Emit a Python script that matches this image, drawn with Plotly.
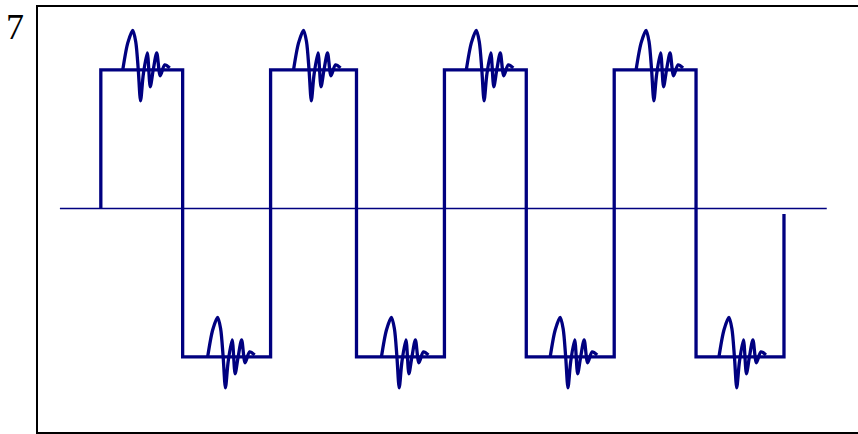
import plotly.graph_objects as go

# Square-wave edge times and levels (data units)
edge_times = [0.0, 4.82, 10.0, 15.06, 20.24, 25.06, 30.24, 35.06, 40.24]
high_level = 1.0
low_level = -1.07
start_level = 0.0
end_level = -0.04

# Ringing template (time offset, amplitude offset)
ring_dt = [0, 0.294, 0.588, 0.765, 0.912, 1.047, 1.206, 1.441, 1.618, 1.794, 2.0, 2.206, 2.471, 2.765]
ring_dv = [0, 0.194, 0.284, 0.201, 0, -0.223, -0.036, 0.122, -0.122, 0, 0.122, -0.043, 0.036, 0.014]

# Ringing onset per flat segment and the segment level
ring_starts = [1.294, 6.294, 11.353, 16.53, 21.53, 26.47, 31.53, 36.41]
ring_levels = [1.0, -1.07, 1.0, -1.07, 1.0, -1.07, 1.0, -1.07]

# Zero (axis) line extent
axis_extent = [-2.41, 42.76]

x_range = [-3.7, 44.6]
y_range = [-1.612, 1.453]

color = "#000080"

# Build the square wave path
sx = [edge_times[0]]
sy = [start_level]
levels = []
for i in range(len(edge_times) - 1):
    levels.append(high_level if i % 2 == 0 else low_level)
for i, lv in enumerate(levels):
    sx += [edge_times[i], edge_times[i + 1]]
    sy += [lv, lv]
sx.append(edge_times[-1])
sy.append(end_level)

fig = go.Figure()

fig.add_trace(go.Scatter(x=axis_extent, y=[0, 0], mode="lines",
                         line=dict(color=color, width=1.3), hoverinfo="skip"))

fig.add_trace(go.Scatter(x=sx, y=sy, mode="lines",
                         line=dict(color=color, width=3.3), hoverinfo="skip"))

for t0, lv in zip(ring_starts, ring_levels):
    fig.add_trace(go.Scatter(x=[t0 + d for d in ring_dt],
                             y=[lv + v for v in ring_dv],
                             mode="lines",
                             line=dict(color=color, width=3.3, shape="spline", smoothing=0.8),
                             hoverinfo="skip"))

fig.add_annotation(text="7", xref="paper", yref="paper", x=-0.028, y=0.952,
                   xanchor="center", yanchor="middle", showarrow=False,
                   font=dict(family="Liberation Serif", size=36, color="black"))

fig.update_layout(
    width=858, height=434,
    margin=dict(l=38, r=0, t=7, b=2),
    paper_bgcolor="white", plot_bgcolor="white",
    showlegend=False,
    xaxis=dict(range=x_range, showgrid=False, zeroline=False, showticklabels=False,
               ticks="", showline=True, mirror=True, linecolor="black", linewidth=1.5),
    yaxis=dict(range=y_range, showgrid=False, zeroline=False, showticklabels=False,
               ticks="", showline=True, mirror=False, linecolor="black", linewidth=1.5),
)

fig.write_html("out.html", config={"displayModeBar": False},
               post_script="document.body.style.margin='0';document.body.style.overflow='hidden';")
